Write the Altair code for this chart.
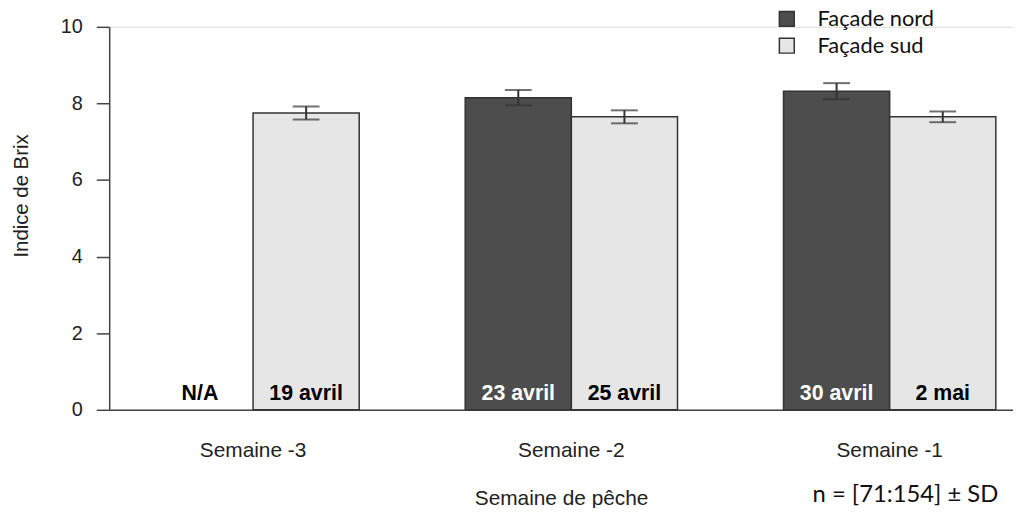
import altair as alt
import pandas as pd

semaines = ["Semaine -3", "Semaine -3", "Semaine -2", "Semaine -2", "Semaine -1", "Semaine -1"]
facades = ["Façade nord", "Façade sud", "Façade nord", "Façade sud", "Façade nord", "Façade sud"]
brix = [None, 7.75, 8.15, 7.65, 8.32, 7.65]
sd = [None, 0.17, 0.20, 0.17, 0.21, 0.14]
dates = ["N/A", "19 avril", "23 avril", "25 avril", "30 avril", "2 mai"]
text_colors = ["#000000", "#000000", "#ffffff", "#000000", "#ffffff", "#000000"]

week_order = ["Semaine -3", "Semaine -2", "Semaine -1"]
facade_order = ["Façade nord", "Façade sud"]
y_ticks = [0, 2, 4, 6, 8, 10]

df = pd.DataFrame({
    "Semaine": semaines, "Facade": facades, "Brix": brix, "SD": sd,
    "Date": dates, "TextColor": text_colors,
})

AX_FONT = "Liberation Sans"
x_enc = alt.X("Semaine:N", sort=week_order,
              scale=alt.Scale(domain=week_order, paddingInner=0.333,
                              paddingOuter=0.0862, align=0.687),
              axis=alt.Axis(title="Semaine de pêche", labelAngle=0, ticks=False,
                            domainColor="#444444", domainWidth=1.5,
                            labelFont=AX_FONT, labelFontSize=21, labelColor="#222222",
                            labelPadding=30, titleFont=AX_FONT, titleFontSize=21,
                            titleFontWeight="normal", titleColor="#222222",
                            titlePadding=27))
xoff = alt.XOffset("Facade:N", sort=facade_order,
                   scale=alt.Scale(domain=facade_order, paddingInner=0, paddingOuter=0))
y_scale = alt.Scale(domain=[0, 10], nice=False)

base = alt.Chart(df)

bars = base.mark_bar(stroke="#333333", strokeWidth=1.5).encode(
    x=x_enc, xOffset=xoff,
    y=alt.Y("Brix:Q", scale=y_scale,
            axis=alt.Axis(title="Indice de Brix", values=y_ticks, grid=False,
                          tickSize=13, tickColor="#444444", tickWidth=1.5,
                          domainColor="#444444", domainWidth=1.5,
                          labelFont=AX_FONT, labelFontSize=20, labelColor="#222222",
                          labelPadding=14, titleFont=AX_FONT, titleFontSize=20.5,
                          titleFontWeight="normal", titleColor="#222222",
                          titleX=-88, titleY=170, titleBaseline="middle")),
    color=alt.Color("Facade:N", sort=facade_order,
                    scale=alt.Scale(domain=facade_order, range=["#4d4d4d", "#e6e6e6"]),
                    legend=alt.Legend(title=None, orient="none", legendX=672, legendY=-19,
                                      symbolType="square", symbolSize=225,
                                      symbolStrokeColor="#333333", symbolStrokeWidth=1.5,
                                      labelFont="Lato", labelFontSize=22, labelColor="#111111",
                                      labelOffset=20, rowPadding=5, padding=0)),
)

err = base.transform_filter("isValid(datum.Brix)").transform_calculate(
    lo="datum.Brix - datum.SD", hi="datum.Brix + datum.SD")

err_rule = err.mark_rule(color="#333333", strokeWidth=2).encode(
    x=x_enc, xOffset=xoff, y=alt.Y("lo:Q", scale=y_scale), y2="hi:Q")
cap_lo = err.mark_tick(color="#333333", thickness=2, size=27).encode(
    x=x_enc, xOffset=xoff, y=alt.Y("lo:Q", scale=y_scale))
cap_hi = err.mark_tick(color="#333333", thickness=2, size=27).encode(
    x=x_enc, xOffset=xoff, y=alt.Y("hi:Q", scale=y_scale))

labels = base.mark_text(font=AX_FONT, fontSize=21.5, fontWeight="bold",
                        baseline="middle", align="center").encode(
    x=x_enc, xOffset=xoff, y=alt.value(370), text="Date:N",
    color=alt.Color("TextColor:N", scale=None),
)

note = alt.Chart(pd.DataFrame({"t": ["n = [71:154] ± SD"]})).mark_text(
    font="Lato", fontSize=24, color="#111111", align="left", baseline="middle").encode(
    x=alt.value(709), y=alt.value(472), text="t:N")

chart = alt.layer(bars, err_rule, cap_lo, cap_hi, labels, note).resolve_scale(
    color="independent").properties(
    width=911, height=386,
    autosize=alt.AutoSizeParams(type="none"),
    padding={"left": 102, "top": 17, "right": 0, "bottom": 97},
).configure_view(stroke=None).configure(background="white")

chart.save("out.html", embed_options={"renderer": "svg", "actions": False})
